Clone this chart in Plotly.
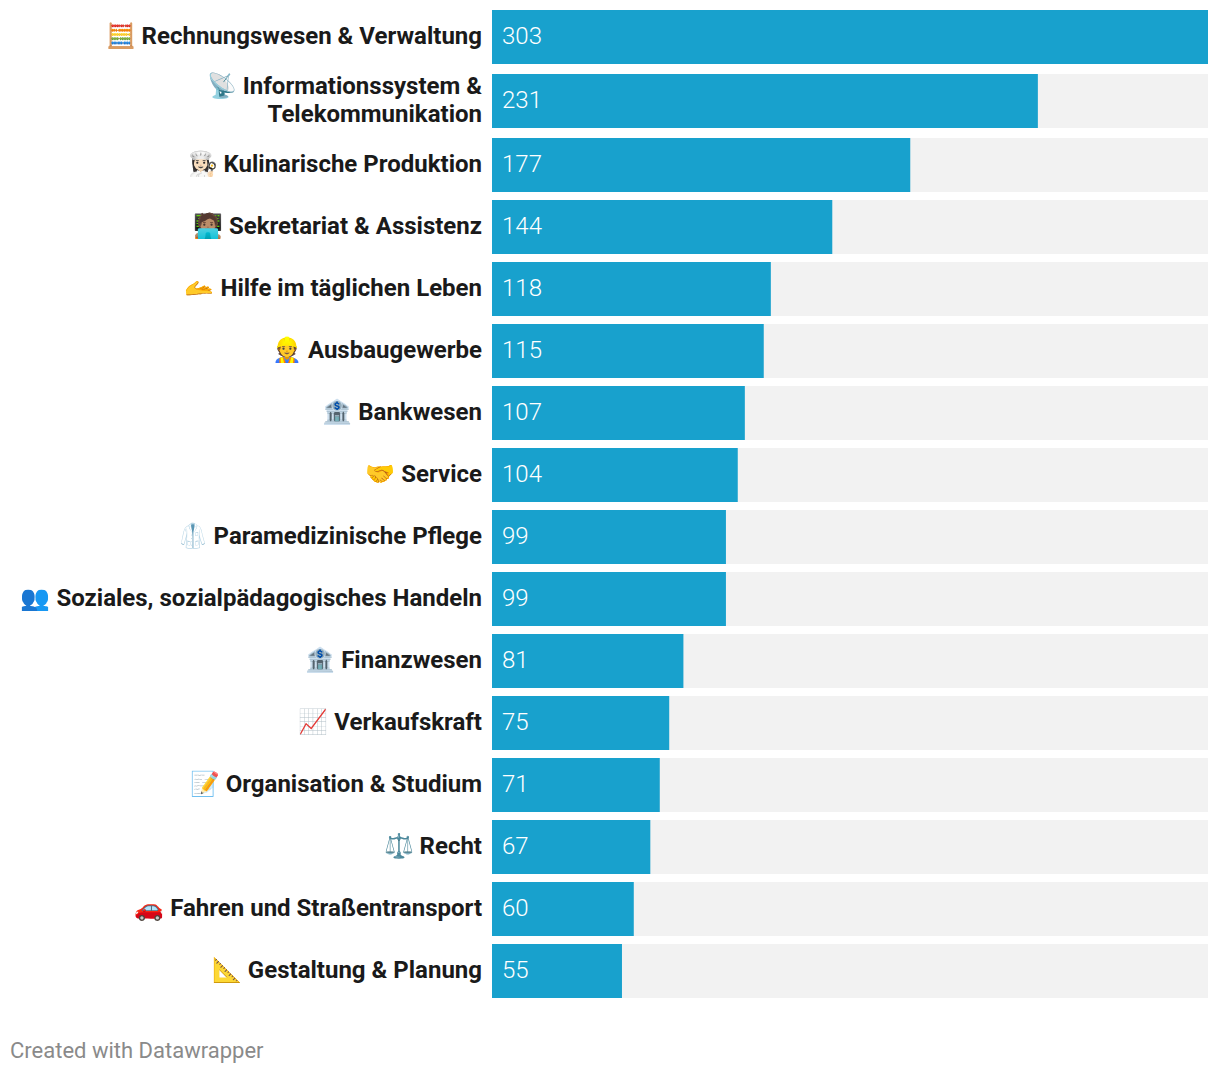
import plotly.graph_objects as go

categories = ["🧮 Rechnungswesen & Verwaltung", "📡 Informationssystem &\nTelekommunikation", "👩🏻‍🍳 Kulinarische Produktion",
 "🧑🏽‍💻 Sekretariat & Assistenz", "🫴 Hilfe im täglichen Leben", "👷 Ausbaugewerbe", "🏦 Bankwesen", "🤝 Service",
 "🥼 Paramedizinische Pflege", "👥 Soziales, sozialpädagogisches Handeln", "🏦 Finanzwesen", "📈 Verkaufskraft",
 "📝 Organisation & Studium", "⚖️ Recht", "🚗 Fahren und Straßentransport", "📐 Gestaltung & Planung"]
values = [303, 231, 177, 144, 118, 115, 107, 104, 99, 99, 81, 75, 71, 67, 60, 55]
credit = "Created with Datawrapper"

# layout (page has an 8px body margin, so the figure is inset)
INSET = 8
W, H = 1220 - 2 * INSET, 1074 - 2 * INSET
LEFT, RIGHT = 492 - INSET, 1208 - INSET
max_value = max(values)

# row centres in figure pixels: the first two steps are 64, then 62
ys = [37 - INSET]
for i in range(1, len(values)):
    ys.append(ys[-1] + (64 if i < 3 else 62))

tickvals, ticktext = [], []
for y, c in zip(ys, categories):
    lines = c.split("\n")
    for j, line in enumerate(lines):
        tickvals.append(y + (j - (len(lines) - 1) / 2) * 28 - 1)
        ticktext.append(f"<b>{line}</b>")

fig = go.Figure()
fig.add_bar(y=ys, x=[max_value] * len(values), orientation="h", width=54,
            marker=dict(color="#f2f2f2", line_width=0), hoverinfo="skip")
fig.add_bar(y=ys, x=values, orientation="h", width=54, marker=dict(color="#18a1cd", line_width=0))
fig.update_layout(barmode="overlay", width=W, height=H, showlegend=False,
    paper_bgcolor="white", plot_bgcolor="white", margin=dict(l=0, r=0, t=0, b=0),
    font=dict(family="Roboto"))
fig.update_xaxes(domain=[LEFT / W, RIGHT / W], range=[0, max_value], visible=False)
fig.update_yaxes(domain=[0, 1], range=[H, 0], tickmode="array", tickvals=tickvals, ticktext=ticktext,
    showgrid=False, zeroline=False, showline=False, ticks="", ticklabelstandoff=9,
    tickfont=dict(family="Roboto", size=24, color="#1a1a1a"), automargin=False)
for y, v in zip(ys, values):
    fig.add_annotation(x=0, y=y, text=str(v), xref="x", yref="y", xanchor="left", yanchor="middle",
        xshift=8, yshift=1, showarrow=False, font=dict(family="Roboto", size=24, color="white", weight=300))
fig.add_annotation(text=credit, xref="paper", yref="y", x=0, xshift=0, y=1050 - INSET,
    xanchor="left", yanchor="middle", showarrow=False, font=dict(family="Roboto", size=22, color="#8a8a8a"))
fig.write_html("out.html")
